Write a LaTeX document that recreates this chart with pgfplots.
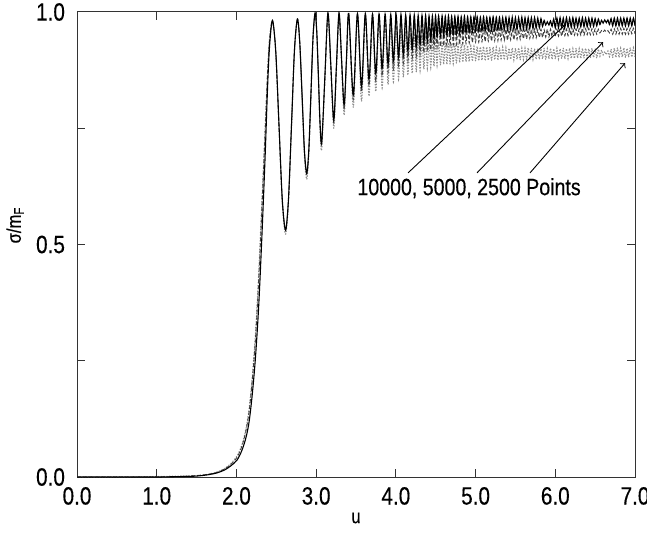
\documentclass[border=0pt]{standalone}
\usepackage{fontspec}
\setmainfont{Liberation Sans}[FakeStretch=0.83, FakeBold=0.3]
\usepackage{pgfplots}
\usepackage{pgfplotstable}
\pgfplotsset{compat=1.18}

\pgfplotstableread{
x A B C
0.00 0.000 0.000 0.000
0.50 0.000 0.000 0.000
1.00 0.000 0.000 0.001
1.30 0.001 0.001 0.002
1.50 0.002 0.003 0.003
1.65 0.005 0.006 0.006
1.76 0.009 0.010 0.011
1.85 0.015 0.017 0.018
1.93 0.024 0.027 0.029
2.01 0.037 0.043 0.046
2.07 0.058 0.067 0.070
2.12 0.085 0.100 0.104
2.16 0.120 0.142 0.148
2.20 0.180 0.210 0.218
2.24 0.260 0.300 0.312
2.28 0.370 0.425 0.440
2.32 0.520 0.580 0.595
2.36 0.690 0.740 0.750
2.39 0.835 0.865 0.870
2.415 0.925 0.940 0.942
2.452 0.982 0.982 0.980
2.493 0.916 0.916 0.913
2.534 0.757 0.756 0.751
2.575 0.597 0.596 0.589
2.616 0.531 0.530 0.522
2.653 0.598 0.597 0.590
2.691 0.758 0.758 0.753
2.728 0.918 0.918 0.915
2.765 0.985 0.985 0.983
2.794 0.936 0.936 0.933
2.824 0.819 0.818 0.812
2.853 0.702 0.700 0.690
2.882 0.653 0.651 0.640
2.908 0.704 0.702 0.692
2.935 0.826 0.824 0.818
2.961 0.947 0.946 0.943
2.987 0.998 0.997 0.995
3.008 0.957 0.956 0.953
3.029 0.859 0.857 0.850
3.049 0.761 0.758 0.747
3.070 0.720 0.717 0.705
3.109 0.859 0.857 0.850
3.148 0.998 0.997 0.995
3.185 0.883 0.880 0.873
3.221 0.768 0.763 0.750
3.254 0.883 0.880 0.872
3.287 0.998 0.997 0.994
3.319 0.899 0.895 0.886
3.351 0.800 0.793 0.778
3.380 0.899 0.895 0.885
3.409 0.997 0.996 0.992
3.466 0.822 0.812 0.795
3.518 0.997 0.996 0.990
3.569 0.840 0.828 0.808
3.617 0.997 0.995 0.987
3.663 0.855 0.841 0.819
3.707 0.996 0.994 0.983
3.748 0.868 0.852 0.829
3.789 0.996 0.993 0.979
3.828 0.879 0.862 0.837
3.865 0.996 0.992 0.975
3.902 0.888 0.870 0.844
3.936 0.995 0.991 0.971
3.969 0.896 0.877 0.850
4.003 0.995 0.990 0.967
4.034 0.903 0.884 0.855
4.064 0.995 0.989 0.963
4.094 0.909 0.890 0.860
4.123 0.994 0.988 0.959
4.151 0.915 0.895 0.864
4.178 0.994 0.987 0.956
4.205 0.920 0.900 0.868
4.231 0.994 0.986 0.953
4.256 0.925 0.904 0.871
4.280 0.993 0.985 0.950
4.304 0.929 0.908 0.874
4.328 0.993 0.984 0.947
4.351 0.933 0.912 0.877
4.373 0.993 0.983 0.945
4.395 0.937 0.915 0.879
4.416 0.992 0.982 0.943
4.438 0.940 0.918 0.881
4.458 0.992 0.981 0.941
4.478 0.943 0.921 0.883
4.498 0.992 0.980 0.939
4.517 0.946 0.924 0.885
4.536 0.992 0.979 0.937
4.56 0.948 0.926 0.886
4.58 0.992 0.978 0.936
4.60 0.949 0.927 0.887
4.62 0.991 0.977 0.935
4.64 0.950 0.927 0.887
4.66 0.992 0.976 0.934
4.68 0.950 0.928 0.888
4.70 0.991 0.975 0.933
4.72 0.951 0.929 0.889
4.74 0.991 0.974 0.932
4.76 0.952 0.930 0.890
4.78 0.991 0.973 0.931
4.80 0.953 0.930 0.891
4.82 0.990 0.972 0.930
4.84 0.954 0.931 0.892
4.86 0.991 0.971 0.929
4.88 0.955 0.932 0.893
4.90 0.990 0.970 0.928
4.92 0.956 0.933 0.893
4.94 0.990 0.969 0.927
4.96 0.957 0.934 0.894
4.98 0.990 0.968 0.926
5.00 0.958 0.935 0.895
5.02 0.990 0.968 0.926
5.04 0.958 0.935 0.895
5.06 0.989 0.967 0.925
5.08 0.959 0.936 0.896
5.10 0.990 0.966 0.926
5.12 0.959 0.936 0.895
5.14 0.989 0.966 0.925
5.16 0.960 0.937 0.896
5.18 0.989 0.965 0.924
5.20 0.960 0.937 0.896
5.22 0.990 0.965 0.925
5.24 0.960 0.938 0.897
5.26 0.989 0.964 0.924
5.28 0.961 0.938 0.896
5.30 0.989 0.964 0.923
5.32 0.961 0.939 0.897
5.34 0.988 0.963 0.924
5.36 0.961 0.939 0.897
5.38 0.989 0.963 0.923
5.40 0.962 0.939 0.897
5.42 0.988 0.963 0.922
5.44 0.962 0.940 0.898
5.46 0.989 0.962 0.923
5.48 0.962 0.940 0.897
5.50 0.988 0.962 0.922
5.52 0.962 0.941 0.898
5.54 0.988 0.962 0.923
5.56 0.963 0.941 0.897
5.58 0.989 0.962 0.922
5.60 0.963 0.942 0.898
5.62 0.988 0.962 0.922
5.64 0.963 0.942 0.898
5.66 0.988 0.963 0.923
5.68 0.964 0.943 0.897
5.70 0.988 0.962 0.922
5.72 0.964 0.944 0.898
5.74 0.988 0.963 0.921
5.76 0.965 0.944 0.898
5.78 0.987 0.962 0.922
5.80 0.966 0.945 0.898
5.82 0.986 0.963 0.921
5.84 0.969 0.945 0.899
5.86 0.982 0.962 0.922
5.88 0.972 0.946 0.898
5.90 0.979 0.963 0.921
5.92 0.972 0.946 0.899
5.94 0.981 0.963 0.922
5.96 0.969 0.947 0.898
5.98 0.985 0.962 0.921
6.00 0.966 0.948 0.899
6.02 0.987 0.963 0.922
6.04 0.966 0.948 0.899
6.06 0.988 0.963 0.921
6.08 0.966 0.948 0.900
6.10 0.987 0.964 0.922
6.12 0.967 0.949 0.899
6.14 0.988 0.963 0.921
6.16 0.967 0.949 0.900
6.18 0.987 0.964 0.922
6.20 0.967 0.949 0.900
6.22 0.988 0.964 0.921
6.24 0.967 0.950 0.900
6.26 0.987 0.964 0.922
6.28 0.968 0.950 0.901
6.30 0.987 0.964 0.921
6.32 0.968 0.950 0.900
6.34 0.988 0.965 0.922
6.36 0.968 0.950 0.901
6.38 0.987 0.964 0.922
6.40 0.968 0.951 0.901
6.42 0.987 0.965 0.921
6.44 0.969 0.951 0.901
6.46 0.987 0.964 0.922
6.48 0.969 0.951 0.902
6.50 0.986 0.964 0.921
6.52 0.970 0.952 0.901
6.54 0.985 0.963 0.920
6.56 0.973 0.955 0.905
6.58 0.982 0.960 0.918
6.60 0.976 0.957 0.908
6.62 0.983 0.961 0.915
6.64 0.977 0.957 0.908
6.66 0.983 0.960 0.916
6.68 0.973 0.955 0.904
6.70 0.986 0.963 0.920
6.72 0.970 0.952 0.902
6.74 0.987 0.964 0.922
6.76 0.970 0.952 0.902
6.78 0.987 0.965 0.923
6.80 0.970 0.952 0.902
6.82 0.987 0.965 0.922
6.84 0.970 0.952 0.903
6.86 0.987 0.965 0.923
6.88 0.970 0.952 0.902
6.90 0.987 0.965 0.922
6.92 0.970 0.952 0.903
6.94 0.987 0.965 0.923
6.96 0.970 0.953 0.903
6.98 0.987 0.965 0.923
7.00 0.970 0.953 0.903
}\data

\begin{document}
\begin{tikzpicture}
\begin{axis}[
  name=ax,
  scale only axis,
  width=279pt, height=232.5pt,
  xmin=0, xmax=7, ymin=0, ymax=1,
  xtick={0,1,2,3,4,5,6,7},
  ytick={0,0.5,1},
  minor ytick={0.25,0.75},
  major tick length=4pt, minor tick length=4pt,
  tick style={black!80, line width=0.5pt},
  axis line style={black!80, line width=0.5pt},
  /pgf/number format/assume math mode=true,
  ticklabel style={font=\fontsize{12.5}{14}\selectfont},
  xticklabel style={/pgf/number format/fixed, /pgf/number format/fixed zerofill, /pgf/number format/precision=1, yshift=-1.5pt},
  yticklabel style={/pgf/number format/fixed, /pgf/number format/fixed zerofill, /pgf/number format/precision=1, xshift=-2.5pt},
  label style={font=\fontsize{12.5}{14}\selectfont},
  xlabel={u},
  ylabel={σ/m\textsubscript{F}},
  every axis x label/.style={at={(axis description cs:0.5,-0.088)}, anchor=center},
  every axis y label/.style={at={(axis description cs:-0.111,0.542)}, rotate=90, anchor=center},
]
\addplot[smooth, black!45, line width=0.6pt, line cap=round, dash pattern=on 0.3pt off 1.1pt] table[x=x, y=C]{\data};
\addplot[smooth, black!75, line width=0.45pt, dash pattern=on 2pt off 1pt] table[x=x, y=B]{\data};
\addplot[smooth, black, line width=0.55pt] table[x=x, y=A]{\data};

\draw[->, line width=0.45pt] (axis cs:4.153,0.654) -- (axis cs:6.122,0.972);
\draw[->, line width=0.45pt] (axis cs:5.018,0.654) -- (axis cs:6.599,0.935);
\draw[->, line width=0.45pt] (axis cs:5.683,0.654) -- (axis cs:6.875,0.890);
\node[anchor=base west, inner sep=0pt, font=\fontsize{11.8}{14}\selectfont] at (axis cs:3.513,0.606) {10000, 5000, 2500 Points};
\end{axis}
\pgfresetboundingbox
\path ([xshift=-38.5pt,yshift=-28pt]ax.south west) rectangle ([xshift=6pt,yshift=6pt]ax.north east);
\end{tikzpicture}
\end{document}
